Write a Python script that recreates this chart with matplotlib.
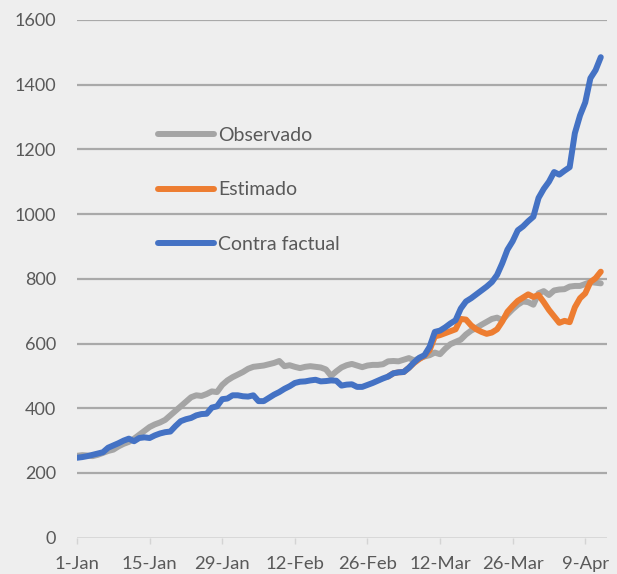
import numpy as np
import matplotlib
matplotlib.use("Agg")
import matplotlib.pyplot as plt

# daily series starting 1-Jan
observado = [
    253, 255, 254, 252, 256, 262, 268, 272, 282, 290,
    296, 306, 318, 330, 342, 350, 356, 364, 378, 392,
    406, 420, 434, 440, 438, 444, 452, 450, 472, 486,
    496, 504, 512, 522, 528, 530, 532, 536, 540, 546,
    530, 533, 528, 524, 528, 530, 528, 526, 520, 500,
    514, 526, 533, 537, 532, 527, 532, 534, 534, 536,
    545, 546, 545, 550, 555, 548, 554, 560, 564, 572,
    567, 584, 598, 605, 612, 628, 640, 648, 658, 667,
    676, 680, 672, 690, 706, 720, 730, 728, 720, 755,
    762, 750, 764, 767, 768, 776, 778, 778, 784, 790,
    788, 786,
]

contra_factual = [
    247, 249, 252, 256, 260, 264, 278, 285, 292, 300,
    306, 298, 308, 310, 308, 316, 322, 326, 328, 345,
    360, 366, 370, 378, 382, 383, 402, 406, 428, 430,
    440, 440, 437, 436, 440, 422, 422, 432, 442, 450,
    460, 468, 478, 482, 483, 486, 488, 483, 484, 486,
    485, 470, 473, 474, 466, 466, 472, 478, 485, 492,
    498, 508, 511, 512, 525, 542, 556, 564, 590, 636,
    640, 650, 662, 672, 708, 730, 740, 752, 764, 776,
    790, 812, 848, 890, 916, 950, 962, 978, 992, 1050,
    1078, 1100, 1130, 1122, 1134, 1145, 1250, 1305, 1345, 1420,
    1445, 1485,
]

# estimado starts on day 60 (1-Mar)
estimado_inicio = 60
estimado = [
    498, 508, 511, 512, 525, 540, 552, 562, 580, 622,
    626, 632, 638, 644, 676, 674, 656, 644, 636, 630,
    634, 644, 668, 698, 716, 732, 742, 752, 744, 750,
    728, 704, 684, 664, 670, 666, 712, 740, 755, 790,
    802, 822,
]

tick_days = [0, 14, 28, 42, 56, 70, 84, 98]
tick_labels = ["1-Jan", "15-Jan", "29-Jan", "12-Feb", "26-Feb", "12-Mar", "26-Mar", "9-Apr"]
y_ticks = [0, 200, 400, 600, 800, 1000, 1200, 1400, 1600]

bg = "#EEEEEE"
text_color = "#595959"
plt.rcParams["font.family"] = ["Lato", "DejaVu Sans"]

fig = plt.figure(figsize=(6.17, 5.74), dpi=100, facecolor=bg)
ax = fig.add_axes([0.1248, 0.0633, 0.859, 0.9019])
ax.set_facecolor(bg)

dias = np.arange(len(observado))
dias_est = np.arange(estimado_inicio, estimado_inicio + len(estimado))

ax.plot(dias, observado, color="#A5A5A5", lw=4.3, solid_capstyle="round",
        solid_joinstyle="round", label="Observado", zorder=3)
ax.plot(dias_est, estimado, color="#ED7D31", lw=4.3, solid_capstyle="round",
        solid_joinstyle="round", label="Estimado", zorder=4)
ax.plot(np.arange(len(contra_factual)), contra_factual, color="#4472C4", lw=4.3,
        solid_capstyle="round", solid_joinstyle="round", label="Contra factual", zorder=5)

ax.set_xlim(0, 102.2)
ax.set_ylim(0, 1600)
ax.set_yticks(y_ticks)
ax.set_yticklabels([str(v) for v in y_ticks])
ax.set_xticks(tick_days)
ax.set_xticklabels(tick_labels)

for v in y_ticks[1:]:
    ax.axhline(v, color="#A9A9A9", lw=1.6, zorder=1)
ax.axhline(0, color="#D4D4D4", lw=1.2, zorder=1)

for s in ax.spines.values():
    s.set_visible(False)
ax.tick_params(axis="y", length=0, pad=15, labelsize=13, labelcolor=text_color)
ax.tick_params(axis="x", length=4, width=1, color="#D4D4D4", pad=9,
               labelsize=13.3, labelcolor=text_color)

ax.legend(loc="upper left", bbox_to_anchor=(0.256, 0.779), bbox_transform=fig.transFigure,
          frameon=False, fontsize=14, labelcolor=text_color, handlelength=2.9,
          handletextpad=0.2, labelspacing=1.93, borderpad=0, borderaxespad=0)

fig.savefig("out.png", dpi=100, facecolor=bg)
